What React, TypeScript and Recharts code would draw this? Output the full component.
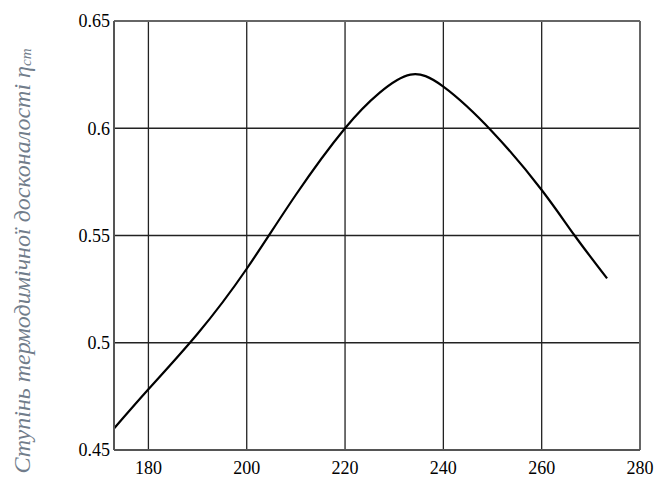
import React from "react";
import { LineChart, Line, XAxis, YAxis, CartesianGrid, ReferenceLine } from "recharts";

const temperatures = [173, 180, 190, 200, 210, 220, 227, 233.3, 240, 250, 260, 266.7, 273.3];
const efficiency = [0.46, 0.4783, 0.5042, 0.5345, 0.569, 0.6, 0.6165, 0.625, 0.6194, 0.5983, 0.5712, 0.55, 0.53];
const xTicks = [180, 200, 220, 240, 260, 280];
const yTicks = [0.45, 0.5, 0.55, 0.6, 0.65];
const yLabel = "Ступінь термодимічної досконалості ";

const data = temperatures.map((t, i) => ({ t, eta: efficiency[i] }));

const tickStyle = { fontFamily: "'Liberation Serif', serif", fontSize: 18, fill: "#000" };

const YLabel = () => (
  <text
    x={22}
    y={261}
    transform="rotate(-90 22 261)"
    textAnchor="middle"
    dominantBaseline="central"
    style={{ fontFamily: "'Liberation Serif', serif", fontStyle: "italic", fontSize: 24, fill: "#717d8b" }}
  >
    {yLabel}
    <tspan>η</tspan>
    <tspan fontSize={15} dy={4}>ст</tspan>
  </text>
);

export default function App() {
  return (
    <div style={{ position: "absolute", left: 0, top: 0, width: 661, height: 477, background: "#fff" }}>
      <LineChart width={661} height={477} data={data} margin={{ top: 21, right: 21, left: 0, bottom: 0 }}>
        <CartesianGrid stroke="#222" strokeWidth={1.3} />
        <XAxis
          dataKey="t"
          type="number"
          domain={[173, 280]}
          ticks={xTicks}
          allowDataOverflow
          height={27}
          tickLine={false}
          tickSize={0}
          tickMargin={11}
          axisLine={{ stroke: "#555", strokeWidth: 2 }}
          tick={tickStyle}
        />
        <YAxis
          type="number"
          domain={[0.45, 0.65]}
          ticks={yTicks}
          allowDataOverflow
          width={114}
          tickLine={false}
          tickSize={0}
          tickMargin={4}
          axisLine={{ stroke: "#555", strokeWidth: 2 }}
          tick={tickStyle}
        />
        <ReferenceLine y={0.65} stroke="#666" strokeWidth={2} />
        <ReferenceLine x={280} stroke="#666" strokeWidth={2} />
        <Line type="natural" dataKey="eta" stroke="#000" strokeWidth={2.2} dot={false} isAnimationActive={false} />
        <YLabel />
      </LineChart>
    </div>
  );
}
